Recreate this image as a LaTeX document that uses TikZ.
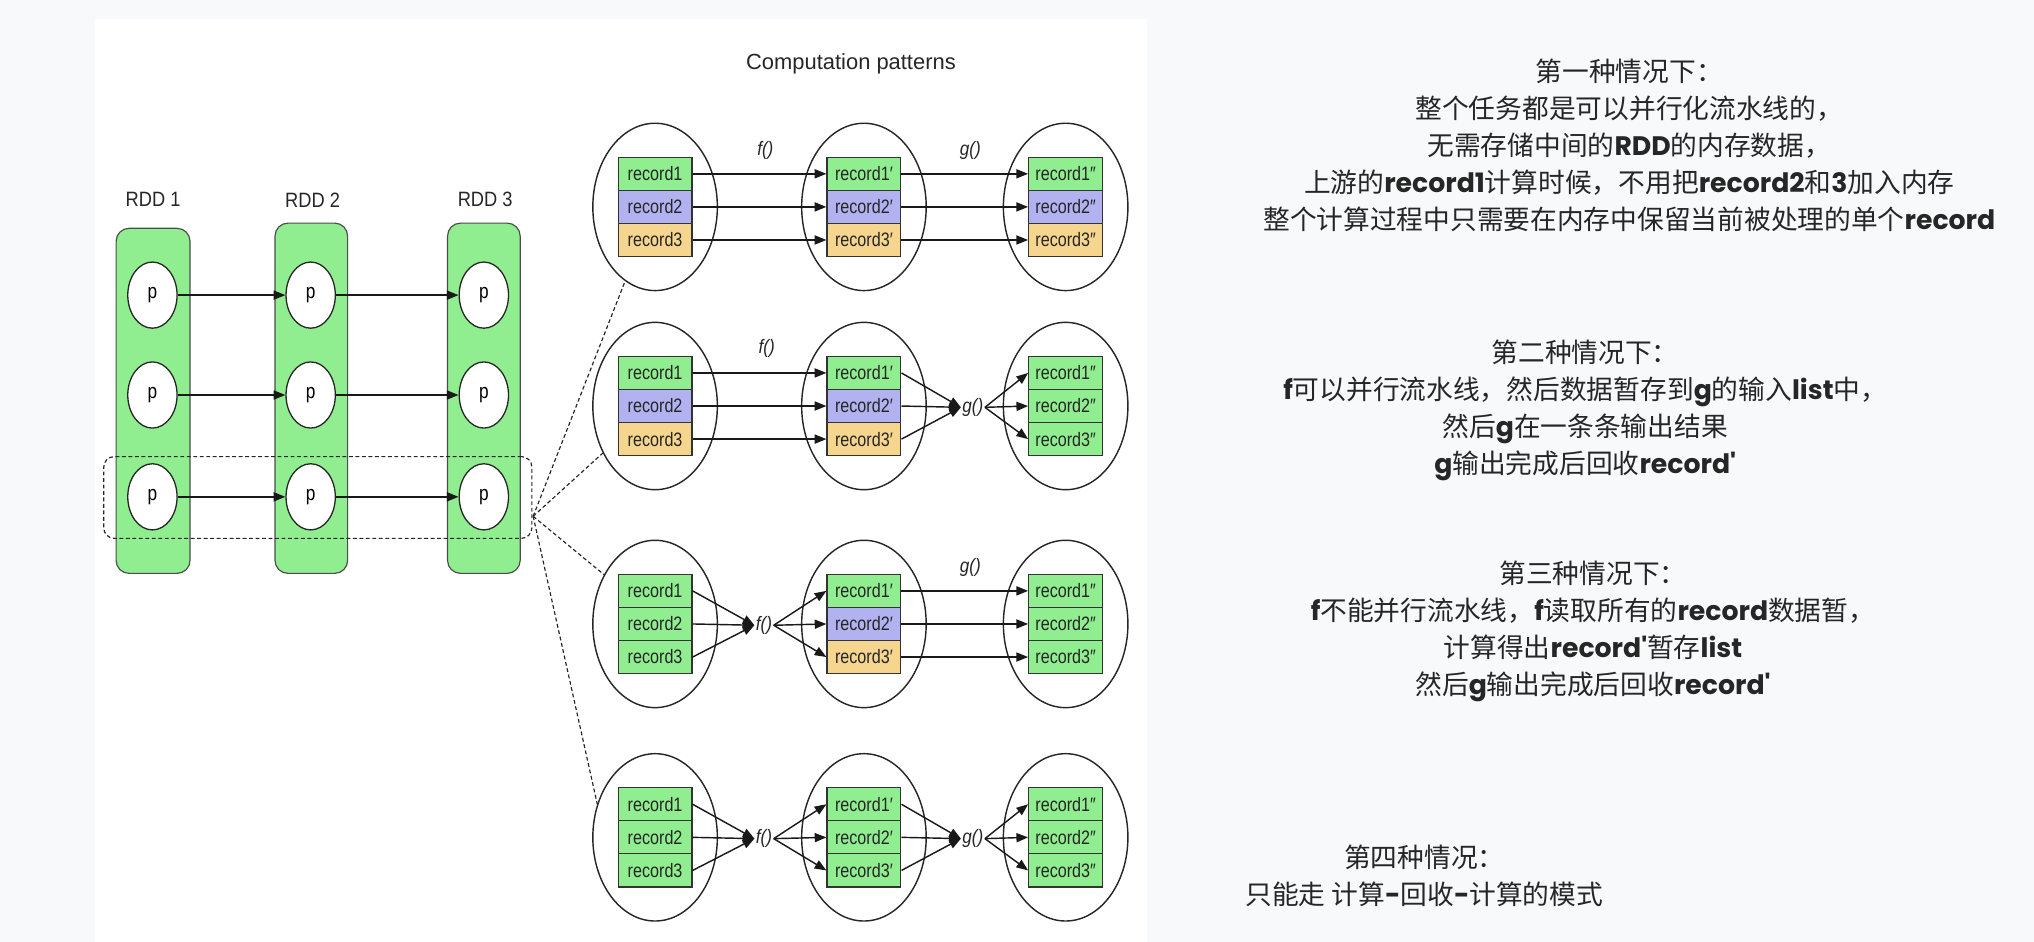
\documentclass[tikz,border=0pt]{standalone}
\usepackage{fontspec}
\usetikzlibrary{arrows.meta,shapes.geometric}
\newfontfamily\hv{Liberation Sans}[FakeStretch=0.88]
\newfontfamily\hvn{Liberation Sans}[FakeStretch=0.83]
\newfontfamily\hvw{Liberation Sans}
\newfontfamily\cjk{Noto Sans CJK SC}
\newfontfamily\latb{Poppins}
\newcommand\lb[1]{{\latb\bfseries #1}}
\definecolor{pagebg}{HTML}{F8F9FA}
\definecolor{recgreen}{HTML}{90EE90}
\definecolor{recblue}{HTML}{B2B2F0}
\definecolor{recyellow}{HTML}{F6D68E}
\definecolor{colgreen}{HTML}{90EE90}
\tikzset{
  rec/.style={draw=black!80, line width=0.9pt, minimum width=57pt, minimum height=25.5pt, inner sep=0pt, font=\hvn\fontsize{15}{16}\selectfont, text=black!85},
  grn/.style={rec, fill=recgreen},
  blu/.style={rec, fill=recblue},
  yel/.style={rec, fill=recyellow},
  bubble/.style={ellipse, draw=black!85, line width=1.1pt, minimum width=96pt, minimum height=129pt, inner sep=0pt},
  part/.style={ellipse, draw=black!85, fill=white, line width=1pt, minimum width=38pt, minimum height=51pt, inner sep=0pt, font=\hvn\fontsize{16}{18}\selectfont},
  rddcol/.style={draw=black!70, fill=colgreen, rounded corners=10pt, line width=0.9pt, inner sep=0pt},
  rddlbl/.style={font=\hv\fontsize{16}{18}\selectfont, text=black!85},
  fn/.style={font=\hv\itshape\fontsize{15}{17}\selectfont, inner sep=1pt, text=black!85},
  arr/.style={-{Triangle[length=9pt,width=7pt]}, line width=1.1pt, black!90},
  dline/.style={dash pattern=on 3pt off 2pt, line width=0.9pt, black!85},
  rtext/.style={align=center, font=\cjk\fontsize{20.6}{28.5}\selectfont, text=black!85, inner sep=0pt},
}
\newcommand\recstack[7]{%
  \node[bubble] (E#1) at (#2,#3) {};
  \node[#4] (R#1a) at (#2,#3-25.5) {record1#7};
  \node[#5] (R#1b) at (#2,#3) {record2#7};
  \node[#6] (R#1c) at (#2,#3+25.5) {record3#7};
}
\begin{document}
\begin{tikzpicture}[x=1pt,y=-1pt]
\useasboundingbox (0,0) rectangle (1568,726);
\fill[pagebg] (0,0) rectangle (1568,726);
\fill[white] (73,14.6) rectangle (884,726);

\node[font=\hvw\fontsize{16.9}{19}\selectfont, text=black!85] (title) at (656,49.5) {Computation patterns};

% RDD columns
\node[rddcol, minimum width=57pt, minimum height=266pt] (col1) at (118,309) {};
\node[rddcol, minimum width=56pt, minimum height=270pt] (col2) at (240,307) {};
\node[rddcol, minimum width=56pt, minimum height=270pt] (col3) at (373,307) {};
\node[rddlbl] (l1) at (118,154) {RDD 1};
\node[rddlbl] (l2) at (241,154) {RDD 2};
\node[rddlbl] (l3) at (374,154) {RDD 3};

\foreach \r/\y in {1/227.5,2/304.5,3/383}{
  \node[part] (p1\r) at (117.5,\y) {p};
  \node[part] (p2\r) at (239.5,\y) {p};
  \node[part] (p3\r) at (373,\y) {p};
  \draw[arr] (p1\r) -- (p2\r);
  \draw[arr] (p2\r) -- (p3\r);
}

\node[draw, dline, rounded corners=8pt, minimum width=330pt, minimum height=63pt, inner sep=0pt] (sel) at (245,383.5) {};
\coordinate (apex) at (411,398);

% computation patterns
\recstack{11}{505}{159.5}{grn}{blu}{yel}{}
\recstack{12}{666}{159.5}{grn}{blu}{yel}{′}
\recstack{13}{821.5}{159.5}{grn}{blu}{yel}{″}

\recstack{21}{505}{313}{grn}{blu}{yel}{}
\recstack{22}{666}{313}{grn}{blu}{yel}{′}
\recstack{23}{821.5}{313}{grn}{grn}{grn}{″}

\recstack{31}{505}{481}{grn}{grn}{grn}{}
\recstack{32}{666}{481}{grn}{blu}{yel}{′}
\recstack{33}{821.5}{481}{grn}{grn}{grn}{″}

\recstack{41}{505}{645.5}{grn}{grn}{grn}{}
\recstack{42}{666}{645.5}{grn}{grn}{grn}{′}
\recstack{43}{821.5}{645.5}{grn}{grn}{grn}{″}

\draw[dline] (apex) -- (E11.248);
\draw[dline] (apex) -- (E21.222);
\draw[dline] (apex) -- (E31.136);
\draw[dline] (apex) -- (E41.150);

% row 1
\node[fn] (f1) at (590,116) {f()};
\node[fn] (g1) at (748,116) {g()};
\foreach \k in {a,b,c}{
  \draw[arr] (R11\k.east) -- (R12\k.west);
  \draw[arr] (R12\k.east) -- (R13\k.west);
}
% row 2
\node[fn] (f2) at (591,269) {f()};
\node[fn] (g2) at (750,314) {g()};
\foreach \k in {a,b,c}{
  \draw[arr] (R21\k.east) -- (R22\k.west);
  \draw[arr] (R22\k.east) -- (g2.west);
  \draw[arr] (g2.east) -- (R23\k.west);
}
% row 3
\node[fn] (f3) at (589,482) {f()};
\node[fn] (g3) at (748,437.5) {g()};
\foreach \k in {a,b,c}{
  \draw[arr] (R31\k.east) -- (f3.west);
  \draw[arr] (f3.east) -- (R32\k.west);
  \draw[arr] (R32\k.east) -- (R33\k.west);
}
% row 4
\node[fn] (f4) at (589,646.5) {f()};
\node[fn] (g4) at (750,646.5) {g()};
\foreach \k in {a,b,c}{
  \draw[arr] (R41\k.east) -- (f4.west);
  \draw[arr] (f4.east) -- (R42\k.west);
  \draw[arr] (R42\k.east) -- (g4.west);
  \draw[arr] (g4.east) -- (R43\k.west);
}

% right-hand notes
\node[rtext] (t1) at (1256,112) {第一种情况下：\\整个任务都是可以并行化流水线的，\\无需存储中间的\lb{RDD}的内存数据，\\上游的\lb{record1}计算时候，不用把\lb{record2}和\lb{3}加入内存\\整个计算过程中只需要在内存中保留当前被处理的单个\lb{record}};
\node[rtext] (t2) at (1222,316.7) {第二种情况下：\\\lb{f}可以并行流水线，然后数据暂存到\lb{g}的输入\lb{list}中，\\然后\lb{g}在一条条输出结果\\\lb{g}输出完成后回收\lb{record'}};
\node[rtext] (t3) at (1228,487) {第三种情况下：\\\lb{f}不能并行流水线，\lb{f}读取所有的\lb{record}数据暂，\\计算得出\lb{record'}暂存\lb{list}\\然后\lb{g}输出完成后回收\lb{record'}};
\node[rtext] (t4) at (1098,675.5) {第四种情况：\\只能走 计算\lb{-}回收\lb{-}计算的模式};
\end{tikzpicture}
\end{document}
